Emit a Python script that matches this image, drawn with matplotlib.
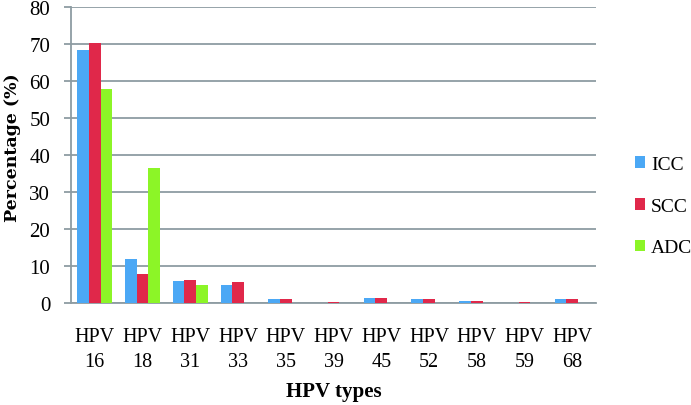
import numpy as np
import matplotlib.pyplot as plt

plt.rcParams['font.family'] = ['Liberation Serif', 'DejaVu Serif']

# data
types = ["16", "18", "31", "33", "35", "39", "45", "52", "58", "59", "68"]
icc = [68.5, 11.9, 6.0, 4.9, 1.2, 0.1, 1.3, 1.0, 0.5, 0.1, 1.0]
scc = [70.2, 7.9, 6.3, 5.7, 1.2, 0.3, 1.5, 1.0, 0.5, 0.3, 1.0]
adc = [57.8, 36.5, 4.9, 0, 0, 0, 0, 0, 0, 0, 0]

colors = ["#4BA8F5", "#E0284A", "#8CF527"]
grid_c = "#8E9CA2"

fig = plt.figure(figsize=(6.91, 4.06), dpi=100)
ax = fig.add_axes([0.1027, 0.251, 0.76, 0.729])

x = np.arange(len(types))
w = 0.245
ax.bar(x - w, icc, w, color=colors[0], label="ICC", zorder=3)
ax.bar(x, scc, w, color=colors[1], label="SCC", zorder=3)
ax.bar(x + w, adc, w, color=colors[2], label="ADC", zorder=3)

ax.set_xlim(-0.5, len(types) - 0.5)
ax.set_ylim(0, 80)
ax.set_yticks(range(0, 81, 10))
ax.yaxis.grid(True, color=grid_c, linewidth=1.3, zorder=0)
ax.set_xticks(x)
ax.set_xticklabels(["HPV\n" + t for t in types], fontsize=14.5, linespacing=1.45)
ax.tick_params(axis="x", length=0, pad=17)
ax.tick_params(axis="y", labelsize=15, length=5, color=grid_c, width=1.3, pad=10)

for s in ["top", "right"]:
    ax.spines[s].set_visible(False)
ax.spines["left"].set_color(grid_c)
ax.spines["left"].set_linewidth(1.3)
ax.spines["bottom"].set_color(grid_c)
ax.spines["bottom"].set_linewidth(1.3)

# the y label is wider in the original, DejaVu Serif bold gets close
ax.set_ylabel("Percentage (%)", fontsize=12.5, fontweight="bold",
              family=["DejaVu Serif"])
ax.yaxis.set_label_coords(-0.095, 0.527)
ax.set_xlabel("HPV types", fontsize=15, fontweight="bold", labelpad=7)

fig.legend(loc="center left", bbox_to_anchor=(0.893, 0.49), frameon=False,
           fontsize=14, handlelength=0.55, handleheight=0.55, handletextpad=0.3,
           labelspacing=1.28)

fig.savefig("out.png", dpi=100)
